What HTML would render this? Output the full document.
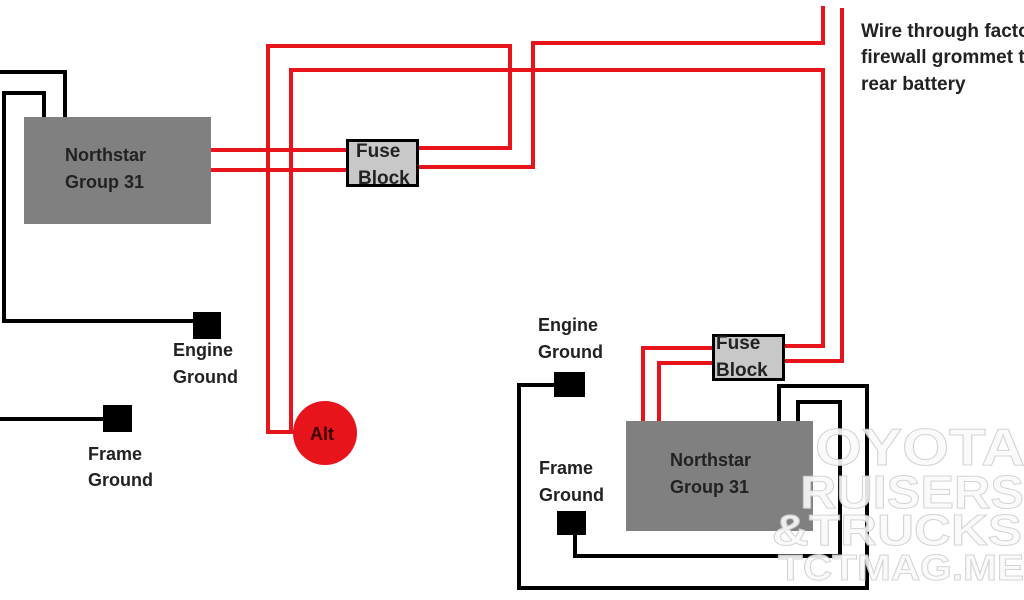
<!DOCTYPE html>
<html><head><meta charset="utf-8"><style>
html,body{margin:0;padding:0;background:#fff;}
svg{display:block;}
text{font-family:"Liberation Sans",sans-serif;font-weight:bold;font-size:18px;fill:#222;}
</style></head><body>
<svg width="1024" height="600" viewBox="0 0 1024 600" xmlns="http://www.w3.org/2000/svg">
<rect width="1024" height="600" fill="#fff"/>
<g fill="none" stroke-linejoin="miter" stroke-linecap="square">
<g stroke="#000" stroke-width="4">
<polyline points="0,72 65,72 65,117"/>
<polyline points="44,117 44,93 4,93 4,321 195,321"/>
<polyline points="0,419 104,419"/>
<polyline points="556,385 519,385 519,588 867,588 867,386 779,386 779,421"/>
<polyline points="575,535 575,556 840,556 840,402 798,402 798,425"/>
</g>
<g stroke="#e8141c" stroke-width="4">
<polyline points="211,150 347,150"/>
<polyline points="211,170 347,170"/>
<polyline points="418,148 510,148 510,46 268,46 268,432 300,432"/>
<polyline points="291,432 291,70 823,70 823,346 783,346"/>
<polyline points="418,167 533,167 533,43 823,43 823,8"/>
<polyline points="842,10 842,361 783,361"/>
<polyline points="712,348 643,348 643,421"/>
<polyline points="712,363 659,363 659,421"/>
</g>
</g>
<rect x="24" y="117" width="187" height="107" fill="#808080"/>
<text x="65" y="161">Northstar</text>
<text x="65" y="188">Group 31</text>
<rect x="347.5" y="140.5" width="70" height="45" fill="#c8c8c8" stroke="#000" stroke-width="3"/>
<text x="356" y="157" style="font-size:19px">Fuse</text>
<text x="358" y="184" style="font-size:19px">Block</text>
<rect x="193" y="312" width="28" height="27" fill="#000"/>
<text x="173" y="356">Engine</text>
<text x="173" y="383">Ground</text>
<rect x="103" y="405" width="29" height="27" fill="#000"/>
<text x="88" y="460">Frame</text>
<text x="88" y="486">Ground</text>
<circle cx="325" cy="433" r="32" fill="#e8141c"/>
<text x="310" y="440" style="fill:#3a0000">Alt</text>
<rect x="626" y="421" width="187" height="110" fill="#808080"/>
<text x="670" y="466">Northstar</text>
<text x="670" y="493">Group 31</text>
<rect x="713.5" y="335.5" width="70" height="44" fill="#c8c8c8" stroke="#000" stroke-width="3"/>
<text x="716" y="349" style="font-size:19px">Fuse</text>
<text x="716" y="376" style="font-size:19px">Block</text>
<text x="538" y="331">Engine</text>
<text x="538" y="358">Ground</text>
<rect x="554" y="372" width="31" height="25" fill="#000"/>
<text x="539" y="474">Frame</text>
<text x="539" y="501">Ground</text>
<rect x="557" y="511" width="29" height="24" fill="#000"/>
<g stroke="#d0d0d0" stroke-width="1" opacity="0.9">
<text x="815" y="465" style="font-size:52px;fill:#fafafa" textLength="210" lengthAdjust="spacingAndGlyphs">OYOTA</text>
<text x="800" y="508" style="font-size:46px;fill:#fafafa" textLength="224" lengthAdjust="spacingAndGlyphs">RUISERS</text>
<text x="772" y="545" style="font-size:44px;fill:#fafafa" textLength="250" lengthAdjust="spacingAndGlyphs">&amp;TRUCKS</text>
<text x="778" y="580" style="font-size:36px;fill:#fafafa" textLength="246" lengthAdjust="spacingAndGlyphs">TCTMAG.ME</text>
</g>
<text x="861" y="37" style="font-size:19px">Wire through factory</text>
<text x="861" y="63" style="font-size:19px">firewall grommet to</text>
<text x="861" y="90" style="font-size:19px">rear battery</text>
</svg>
</body></html>
